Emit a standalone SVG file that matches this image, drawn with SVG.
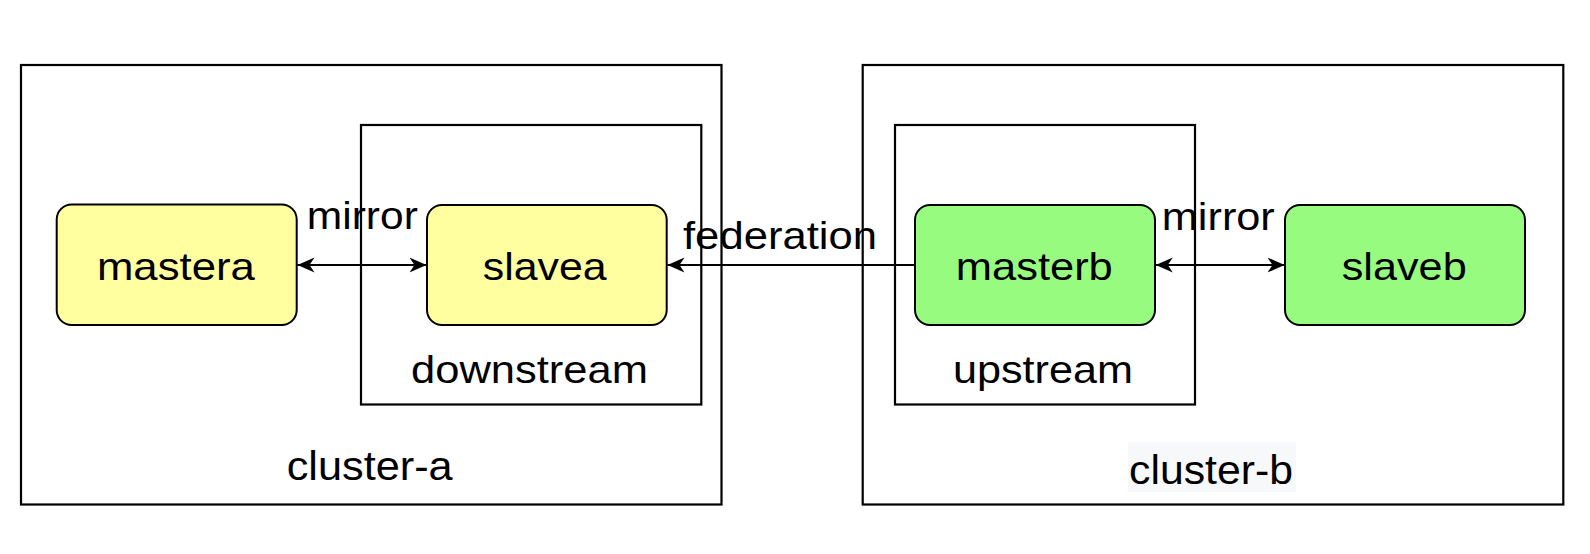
<svg xmlns="http://www.w3.org/2000/svg" width="1590" height="554" viewBox="0 0 1590 554">
<style>
text{font-family:"Liberation Sans",Arial,Helvetica,sans-serif;fill:#000;text-anchor:middle}
.frame{fill:none;stroke:#000;stroke-width:2.2}
.yellow{fill:#ffffa0;stroke:#000;stroke-width:2}
.green{fill:#96fb7e;stroke:#000;stroke-width:2}
.lbl{font-size:39px}
.big{font-size:41px}
.conn{stroke:#000;stroke-width:2;fill:none}
</style>
<defs>
<marker id="arr" markerUnits="userSpaceOnUse" markerWidth="20" markerHeight="18" refX="17" refY="8" orient="auto-start-reverse" viewBox="0 0 20 18">
<path d="M0,0.5 L17,8 L0,15.5 L5,8 Z" fill="#000"/>
</marker>
</defs>
<rect width="1590" height="554" fill="#fff"/>
<g id="cluster-a">
<rect class="frame" x="21" y="65" width="700.5" height="439.5"/>
<text class="big" x="369.7" y="480" textLength="166" lengthAdjust="spacingAndGlyphs">cluster-a</text>
</g>
<g id="cluster-b">
<rect class="frame" x="862.7" y="65" width="700.6" height="439.5"/>
<rect x="1128" y="442" width="168" height="50" fill="#f7f8fa"/>
<text class="big" x="1211" y="484" textLength="164" lengthAdjust="spacingAndGlyphs">cluster-b</text>
</g>
<g id="downstream">
<rect class="frame" x="361" y="125" width="340.3" height="279.5"/>
<text class="lbl" x="529.5" y="383" textLength="237" lengthAdjust="spacingAndGlyphs">downstream</text>
</g>
<g id="upstream">
<rect class="frame" x="895" y="125" width="300" height="279.5"/>
<text class="lbl" x="1043" y="383" textLength="180" lengthAdjust="spacingAndGlyphs">upstream</text>
</g>
<g id="mastera">
<rect class="yellow" x="56.7" y="204.5" width="240" height="120.5" rx="15"/>
<text class="lbl" x="175.9" y="280" textLength="158" lengthAdjust="spacingAndGlyphs">mastera</text>
</g>
<g id="slavea">
<rect class="yellow" x="427" y="205" width="239.7" height="120" rx="15"/>
<text class="lbl" x="544.7" y="280" textLength="124" lengthAdjust="spacingAndGlyphs">slavea</text>
</g>
<g id="masterb">
<rect class="green" x="915" y="205" width="240" height="120" rx="15"/>
<text class="lbl" x="1034.3" y="280" textLength="157" lengthAdjust="spacingAndGlyphs">masterb</text>
</g>
<g id="slaveb">
<rect class="green" x="1285" y="205" width="240" height="120" rx="15"/>
<text class="lbl" x="1404.2" y="280" textLength="125" lengthAdjust="spacingAndGlyphs">slaveb</text>
</g>
<g id="connectors">
<line class="conn" x1="297.5" y1="265" x2="426.5" y2="265" marker-start="url(#arr)" marker-end="url(#arr)"/>
<text class="lbl" x="362.3" y="229" textLength="111" lengthAdjust="spacingAndGlyphs">mirror</text>
<line class="conn" x1="915" y1="265" x2="667.5" y2="265" marker-end="url(#arr)"/>
<text class="lbl" x="780" y="249" textLength="194" lengthAdjust="spacingAndGlyphs">federation</text>
<line class="conn" x1="1155.8" y1="265" x2="1284.5" y2="265" marker-start="url(#arr)" marker-end="url(#arr)"/>
<text class="lbl" x="1218.3" y="230" textLength="113" lengthAdjust="spacingAndGlyphs">mirror</text>
</g>
</svg>
